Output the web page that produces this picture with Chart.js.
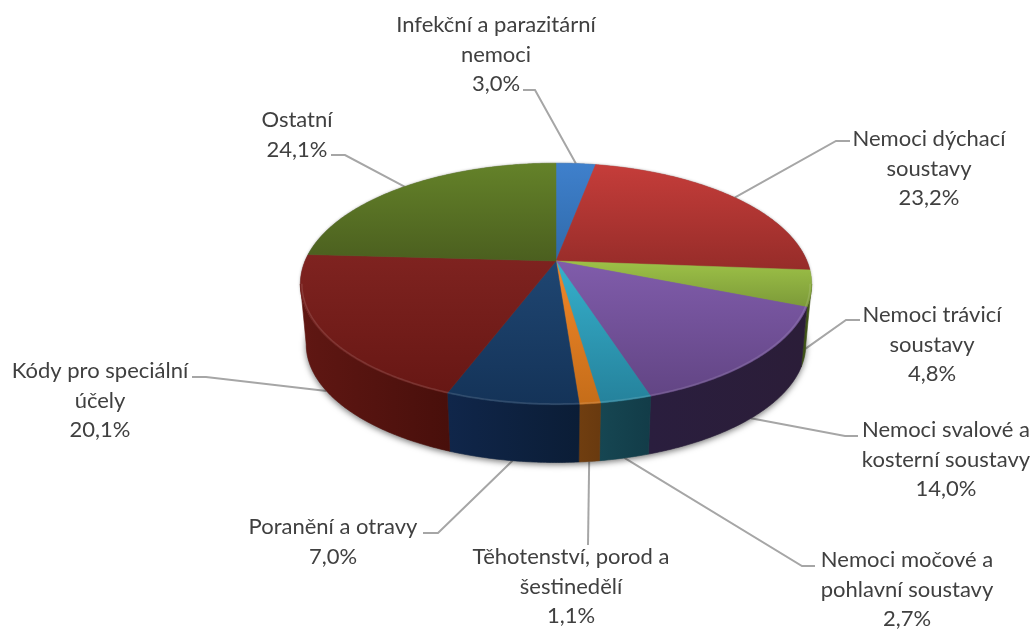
<!DOCTYPE html>
<html>
<head>
<meta charset="utf-8">
<title>Pie</title>
<script src="https://cdn.jsdelivr.net/npm/chart.js@4"></script>
<style>
  html, body { margin: 0; padding: 0; background: #fff; }
  canvas { display: block; }
</style>
</head>
<body>
<canvas id="pie-chart" width="1036" height="629"></canvas>
<script>
const categories = [
  'Infekční a parazitární nemoci',
  'Nemoci dýchací soustavy',
  'Nemoci trávicí soustavy',
  'Nemoci svalové a kosterní soustavy',
  'Nemoci močové a pohlavní soustavy',
  'Těhotenství, porod a šestinedělí',
  'Poranění a otravy',
  'Kódy pro speciální účely',
  'Ostatní'
];
const values = [3.0, 23.2, 4.8, 14.0, 2.7, 1.1, 7.0, 20.1, 24.1];

// label text split the way it wraps in the picture
const labelLines = [
  ['Infekční a parazitární', 'nemoci'],
  ['Nemoci dýchací', 'soustavy'],
  ['Nemoci trávicí', 'soustavy'],
  ['Nemoci svalové a', 'kosterní soustavy'],
  ['Nemoci močové a', 'pohlavní soustavy'],
  ['Těhotenství, porod a', 'šestinedělí'],
  ['Poranění a otravy'],
  ['Kódy pro speciální', 'účely'],
  ['Ostatní']
];

// colours: top of slice, bottom of slice, wall left, wall right
const topLight = ['#3F80CC', '#C53D3A', '#9DC147', '#805CAB', '#36B0CC', '#F28729', '#1F4672', '#7F2320', '#648229'];
const topDark  = ['#2F6AAA', '#962C29', '#7C9A39', '#624584', '#25829C', '#C56D19', '#143358', '#671714', '#4B5F1F'];
const wallLeft  = ['#1F3F66', '#5A1A18', '#3C4F16', '#2A1E3E', '#164652', '#703E10', '#10264A', '#601713', '#3A4C14'];
const wallRight = ['#1F3F66', '#5A1A18', '#46591B', '#2B1D38', '#123C48', '#693A0F', '#0B1D36', '#480F0B', '#3A4C14'];

// label placement: centre x, first line y, leader elbow and leader start
const labelX = [496, 929, 932, 946, 907, 571, 333, 100, 297];
const labelY = [25, 139, 315, 430, 560, 557, 527, 371, 120];
const leaderStart = [[523, 90], [850, 141], [860, 320], [858, 436], [815, 566], [588, 545], [423, 533], [192, 377], [331, 155]];
const leaderElbow = [[535, 90], [836, 141], [846, 320], [845, 436], [802, 566], [588, 545], [438, 533], [206, 377], [345, 155]];

const SQUASH = 0.464;      // tilt of the pie
const PERSP = 0.19;        // perspective, front of the pie is nearer
const DEPTH = 61;          // wall height
const BASE_SCALE = 0.977;  // base looks a bit smaller than the rim
const WALL_FROM = Math.asin(0.19);
const WALL_TO = Math.PI - WALL_FROM;
const LINE_HEIGHT = 29.5;

// pie plane angle -> screen point on the rim
function rimPoint(arc, a, scale) {
  const k = scale === undefined ? 1 : scale;
  const u = Math.cos(a);
  const v = Math.sin(a);
  const w = 1 - PERSP * v;
  return {
    x: arc.x + k * arc.outerRadius * u / w,
    y: arc.y + k * arc.outerRadius * SQUASH * v / w
  };
}

function basePoint(arc, a) {
  const p = rimPoint(arc, a);
  return {
    x: arc.x + (p.x - arc.x) * BASE_SCALE,
    y: arc.y + (p.y - arc.y) * BASE_SCALE + DEPTH
  };
}

function sampleAngles(a0, a1) {
  const n = Math.max(2, Math.ceil((a1 - a0) / 0.01));
  const out = [];
  for (let i = 0; i <= n; i++) out.push(a0 + (a1 - a0) * i / n);
  return out;
}

function tracePoints(ctx, pts) {
  ctx.beginPath();
  pts.forEach((p, i) => {
    if (i === 0) ctx.moveTo(p.x, p.y);
    else ctx.lineTo(p.x, p.y);
  });
  ctx.closePath();
}

function drawLeaders(ctx, arcs) {
  ctx.strokeStyle = '#A6A6A6';
  ctx.lineWidth = 2;
  arcs.forEach((arc, i) => {
    const mid = (arc.startAngle + arc.endAngle) / 2;
    const end = Math.sin(mid) > 0 ? basePoint(arc, mid) : rimPoint(arc, mid);
    ctx.beginPath();
    ctx.moveTo(leaderStart[i][0], leaderStart[i][1]);
    ctx.lineTo(leaderElbow[i][0], leaderElbow[i][1]);
    ctx.lineTo(end.x, end.y);
    ctx.stroke();
  });
}

function drawShadow(ctx, arc) {
  const all = sampleAngles(0, Math.PI * 2);
  ctx.save();
  ctx.shadowColor = 'rgba(0,0,0,0.55)';
  ctx.shadowBlur = 6;
  ctx.shadowOffsetY = 2;
  ctx.fillStyle = '#777';
  tracePoints(ctx, all.map(a => basePoint(arc, a)));
  ctx.fill();
  ctx.shadowColor = 'rgba(0,0,0,0.35)';
  ctx.shadowBlur = 3;
  ctx.shadowOffsetY = 0;
  tracePoints(ctx, all.map(a => rimPoint(arc, a)));
  ctx.fill();
  ctx.restore();
}

function drawWalls(ctx, arcs) {
  arcs.forEach((arc, i) => {
    const a0 = Math.max(arc.startAngle, WALL_FROM);
    const a1 = Math.min(arc.endAngle, WALL_TO);
    if (a1 <= a0) return;
    const angles = sampleAngles(a0, a1);
    const rim = angles.map(a => rimPoint(arc, a));
    const base = angles.map(a => basePoint(arc, a)).reverse();
    const xs = rim.concat(base).map(p => p.x);
    // angles run right to left along the front of the pie
    const g = ctx.createLinearGradient(Math.max(...xs), 0, Math.min(...xs), 0);
    g.addColorStop(0, wallRight[i]);
    g.addColorStop(1, wallLeft[i]);
    tracePoints(ctx, rim.concat(base));
    ctx.fillStyle = g;
    ctx.strokeStyle = g;
    ctx.lineWidth = 0.6;
    ctx.fill();
    ctx.stroke();
  });
}

function drawTop(ctx, arcs) {
  arcs.forEach((arc, i) => {
    const rim = sampleAngles(arc.startAngle, arc.endAngle).map(a => rimPoint(arc, a));
    const pts = [{ x: arc.x, y: arc.y }].concat(rim);
    const ys = pts.map(p => p.y);
    const g = ctx.createLinearGradient(0, Math.min(...ys), 0, Math.max(...ys));
    g.addColorStop(0, topLight[i]);
    g.addColorStop(1, topDark[i]);
    tracePoints(ctx, pts);
    ctx.fillStyle = g;
    ctx.strokeStyle = g;
    ctx.lineWidth = 0.5;
    ctx.fill();
    ctx.stroke();
  });
  // thin light bevel along the front edge
  arcs.forEach((arc) => {
    const a0 = Math.max(arc.startAngle, WALL_FROM);
    const a1 = Math.min(arc.endAngle, WALL_TO);
    if (a1 <= a0) return;
    const pts = sampleAngles(a0, a1).map(a => rimPoint(arc, a, 0.994));
    ctx.beginPath();
    pts.forEach((p, n) => (n === 0 ? ctx.moveTo(p.x, p.y) : ctx.lineTo(p.x, p.y)));
    ctx.strokeStyle = 'rgba(255,255,255,0.12)';
    ctx.lineWidth = 1.5;
    ctx.stroke();
  });
}

function drawLabels(ctx) {
  ctx.fillStyle = '#404040';
  ctx.font = '22px Lato';
  ctx.textAlign = 'center';
  ctx.textBaseline = 'middle';
  values.forEach((value, i) => {
    const lines = labelLines[i].concat([value.toFixed(1).replace('.', ',') + '%']);
    lines.forEach((line, n) => {
      ctx.fillText(line, labelX[i], labelY[i] + n * LINE_HEIGHT);
    });
  });
}

// Chart.js works out the slice angles, this only paints them as a tilted solid
const tiltedPie = {
  id: 'tiltedPie',
  beforeDatasetsDraw(chart) {
    const ctx = chart.ctx;
    const arcs = chart.getDatasetMeta(0).data;
    ctx.save();
    drawLeaders(ctx, arcs);
    drawShadow(ctx, arcs[0]);
    drawWalls(ctx, arcs);
    drawTop(ctx, arcs);
    drawLabels(ctx);
    ctx.restore();
    return false;
  }
};

new Chart(document.getElementById('pie-chart'), {
  type: 'pie',
  data: {
    labels: categories,
    datasets: [{ data: values, backgroundColor: topLight, borderWidth: 0 }]
  },
  options: {
    responsive: false,
    animation: false,
    radius: 251,
    layout: { padding: { left: 76, bottom: 107 } },
    plugins: {
      legend: { display: false },
      tooltip: { enabled: false }
    }
  },
  plugins: [tiltedPie]
});
</script>
</body>
</html>
